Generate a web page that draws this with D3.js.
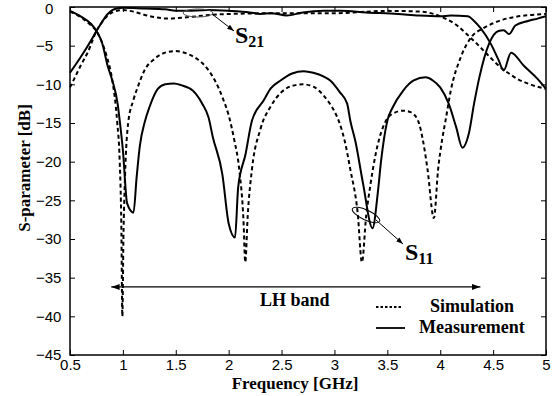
<!DOCTYPE html>
<html>
<head>
<meta charset="utf-8">
<script src="https://cdn.jsdelivr.net/npm/d3@7"></script>
<style>
  body { margin: 0; background: #fff; }
  .tick text { font-family: "Liberation Sans", Arial, sans-serif; font-size: 15px; fill: #000; }
  .lbl { font-family: "Liberation Serif", "Times New Roman", serif; font-weight: bold; fill: #000; }
</style>
</head>
<body>
<div id="chart"></div>
<script>
// Simulated S11
var freqSimS11 = [0.5, 0.6, 0.7, 0.75, 0.8, 0.85, 0.9, 0.945, 0.97, 0.985, 0.995, 1.005, 1.02, 1.05, 1.1, 1.15, 1.2, 1.3, 1.4, 1.5,
  1.6, 1.7, 1.8, 1.87, 1.95, 2.0, 2.05, 2.1, 2.14, 2.157, 2.18, 2.22, 2.3, 2.4, 2.5, 2.6, 2.7, 2.8, 2.9, 3.0,
  3.04, 3.1, 3.15, 3.22, 3.26, 3.3, 3.34, 3.39, 3.46, 3.55, 3.65, 3.72, 3.79, 3.84, 3.88, 3.94, 3.98, 4.02, 4.05, 4.1,
  4.2, 4.3, 4.4, 4.5, 4.6, 4.7, 4.8, 4.9, 5.0];
var simS11 = [-0.6, -1.3, -2.4, -3.1, -4.5, -6.5, -9.5, -14.7, -20, -28, -40, -30, -22, -15, -12, -10, -8.3, -6.7, -5.9, -5.7,
  -6, -6.7, -8, -9.5, -12, -14, -17, -21, -27.6, -33, -27, -21, -15.8, -12.8, -11, -10.2, -10, -10.3, -11.5, -13.5,
  -14.7, -17.5, -21, -26.7, -33, -27, -23, -19, -15.5, -13.8, -13.4, -13.6, -14.7, -17.5, -21, -27.3, -21, -17, -14.7, -10.8,
  -6.3, -3.8, -2.8, -2.1, -1.6, -1.3, -1.1, -1.0, -0.9];

// Measured S11
var freqMeasS11 = [0.5, 0.6, 0.7, 0.75, 0.8, 0.86, 0.9, 0.95, 0.97, 1.0, 1.04, 1.1, 1.13, 1.16, 1.21, 1.25, 1.33, 1.4, 1.48, 1.55,
  1.66, 1.75, 1.81, 1.85, 1.94, 2.0, 2.06, 2.09, 2.16, 2.22, 2.33, 2.4, 2.49, 2.6, 2.71, 2.8, 2.9, 2.96, 3.05, 3.12,
  3.15, 3.2, 3.27, 3.36, 3.41, 3.44, 3.5, 3.55, 3.65, 3.75, 3.86, 3.93, 4.0, 4.08, 4.15, 4.21, 4.27, 4.32, 4.37, 4.46,
  4.55, 4.6, 4.65, 4.71, 4.83, 4.92, 5.0];
var measS11 = [-0.5, -1.2, -2.2, -3.1, -4.5, -7.8, -9.5, -12.5, -14.7, -18.5, -25.4, -26.6, -22, -18, -14.7, -13, -10.6, -10, -9.9, -10.1,
  -10.8, -12.5, -14.3, -16.8, -21.6, -28, -29.8, -23.3, -19, -14.7, -12.1, -10.5, -9.5, -8.6, -8.3, -8.5, -9, -9.5, -11, -12.5,
  -14.7, -17.5, -22.8, -28.6, -24, -20, -14.7, -13, -10.8, -9.5, -9.1, -9.5, -10.4, -12.5, -15.5, -18.2, -16.4, -12.5, -9.1, -4.8,
  -3.1, -3.0, -3.5, -2.4, -1.8, -1.5, -1.2];

// Simulated S21
var freqSimS21 = [0.5, 0.55, 0.6, 0.67, 0.75, 0.8, 0.85, 0.9, 1.0, 1.1, 1.2, 1.3, 1.43, 1.55, 1.7, 1.85, 2.0, 2.5, 3.0, 3.5,
  3.81, 3.94, 4.05, 4.16, 4.25, 4.35, 4.45, 4.57, 4.65, 4.73, 4.85, 5.0];
var simS21 = [-10.4, -9, -7.6, -5.8, -3.1, -2.0, -1.2, -0.7, -0.4, -0.6, -1.0, -1.3, -1.5, -1.4, -1.2, -1.0, -0.9, -0.8, -0.8, -0.5,
  -0.6, -0.9, -1.5, -2.4, -3.5, -4.8, -6.2, -7.8, -8.6, -9.3, -10, -10.6];

// Measured S21
var freqMeasS21 = [0.5, 0.6, 0.7, 0.75, 0.8, 0.85, 0.9, 0.95, 1.0, 1.2, 1.4, 1.5, 1.6, 1.8, 2.0, 2.2, 2.3, 2.4, 2.55, 2.7,
  2.9, 3.06, 3.3, 3.6, 3.8, 4.0, 4.1, 4.26, 4.32, 4.38, 4.48, 4.55, 4.6, 4.67, 4.79, 4.92, 5.0];
var measS21 = [-8.5, -6.5, -4.3, -3.1, -2.0, -1.0, -0.4, -0.15, -0.1, -0.2, -0.3, -0.5, -0.5, -0.4, -0.5, -0.7, -0.9, -0.8, -1.1, -0.7,
  -0.5, -0.5, -0.7, -0.9, -1.1, -1.2, -1.1, -1.2, -1.8, -2.7, -4.8, -6.8, -8.2, -5.9, -7.6, -9.3, -10.6];

var xTicks = [0.5, 1, 1.5, 2, 2.5, 3, 3.5, 4, 4.5, 5];
var yTicks = [0, -5, -10, -15, -20, -25, -30, -35, -40, -45];

var W = 559, H = 396;
var margin = {top: 7, right: 13, bottom: 41, left: 70};
var iw = W - margin.left - margin.right, ih = H - margin.top - margin.bottom;

var svg = d3.select("#chart").append("svg").attr("width", W).attr("height", H);
var defs = svg.append("defs");
defs.append("marker").attr("id", "ah").attr("viewBox", "0 0 10 10").attr("refX", 10).attr("refY", 5)
    .attr("markerWidth", 7).attr("markerHeight", 7).attr("orient", "auto-start-reverse")
  .append("path").attr("d", "M0,1.5L10,5L0,8.5Z").attr("fill", "#000");

var g = svg.append("g").attr("transform", "translate(" + margin.left + "," + margin.top + ")");

var x = d3.scaleLinear().domain([0.5, 5]).range([0, iw]);
var y = d3.scaleLinear().domain([-45, 0]).range([ih, 0]);

// axes with inward ticks on all four sides
var fmt = d3.format("");
g.append("g").attr("transform", "translate(0," + ih + ")")
    .call(d3.axisBottom(x).tickValues(xTicks).tickFormat(fmt).tickSizeInner(-5).tickSizeOuter(0).tickPadding(4))
    .call(function(a) { a.select(".domain").remove(); });
g.append("g")
    .call(d3.axisTop(x).tickValues(xTicks).tickFormat("").tickSizeInner(-5).tickSizeOuter(0))
    .call(function(a) { a.select(".domain").remove(); });
g.append("g").attr("transform", "translate(" + iw + ",0)")
    .call(d3.axisRight(y).tickValues(yTicks).tickFormat("").tickSizeInner(-5).tickSizeOuter(0))
    .call(function(a) { a.select(".domain").remove(); });
var yAxis = g.append("g")
    .call(d3.axisLeft(y).tickValues(yTicks).tickFormat(fmt).tickSizeInner(-5).tickSizeOuter(0))
    .call(function(a) { a.select(".domain").remove(); });
yAxis.selectAll(".tick text")
    .attr("text-anchor", "start")
    .attr("x", function(d) { return d === 0 ? -25 : -34; })
    .attr("dy", function(d) { return d === 0 ? "0.45em" : "0.32em"; });
g.selectAll(".tick line").attr("stroke", "#000").attr("stroke-width", 1);

g.append("rect").attr("width", iw).attr("height", ih)
    .attr("fill", "none").attr("stroke", "#000").attr("stroke-width", 1.5);

// curves
var lineGen = d3.line()
    .x(function(d) { return x(d[0]); })
    .y(function(d) { return y(d[1]); })
    .curve(d3.curveMonotoneX);

function zip(f, v) { return f.map(function(d, i) { return [d, v[i]]; }); }

var series = [
  {f: freqSimS21, v: simS21, dash: "4,3"},
  {f: freqSimS11, v: simS11, dash: "4,3"},
  {f: freqMeasS21, v: measS21, dash: null},
  {f: freqMeasS11, v: measS11, dash: null}
];
series.forEach(function(s) {
  g.append("path")
      .attr("d", lineGen(zip(s.f, s.v)))
      .attr("fill", "none")
      .attr("stroke", "#000")
      .attr("stroke-width", 2)
      .attr("stroke-linejoin", "round")
      .attr("stroke-dasharray", s.dash);
});

// LH band arrow
g.append("line")
    .attr("x1", x(0.89)).attr("x2", x(4.38))
    .attr("y1", y(-36.2)).attr("y2", y(-36.2))
    .attr("stroke", "#000").attr("stroke-width", 1.2)
    .attr("marker-start", "url(#ah)").attr("marker-end", "url(#ah)");
g.append("text").attr("class", "lbl").attr("x", 190).attr("y", 299)
    .style("font-size", "18px").text("LH band");

// S21 annotation
g.append("ellipse").attr("cx", 128).attr("cy", 6).attr("rx", 15).attr("ry", 4)
    .attr("fill", "none").attr("stroke", "#555").attr("stroke-width", 1);
g.append("line").attr("x1", 142).attr("y1", 7).attr("x2", 164).attr("y2", 24)
    .attr("stroke", "#000").attr("stroke-width", 1).attr("marker-end", "url(#ah)");
var t21 = g.append("text").attr("class", "lbl").attr("x", 165).attr("y", 36).style("font-size", "24px");
t21.append("tspan").text("S");
t21.append("tspan").attr("dy", 4).style("font-size", "16px").text("21");

// S11 annotation
g.append("ellipse").attr("transform", "translate(296,208) rotate(25)").attr("rx", 15).attr("ry", 5)
    .attr("fill", "none").attr("stroke", "#000").attr("stroke-width", 1);
g.append("line").attr("x1", 306).attr("y1", 213).attr("x2", 333).attr("y2", 237)
    .attr("stroke", "#000").attr("stroke-width", 1).attr("marker-end", "url(#ah)");
var t11 = g.append("text").attr("class", "lbl").attr("x", 335).attr("y", 253).style("font-size", "24px");
t11.append("tspan").text("S");
t11.append("tspan").attr("dy", 4).style("font-size", "16px").text("11");

// legend
var lg = g.append("g").attr("transform", "translate(306,300)");
lg.append("line").attr("x1", 0).attr("x2", 27).attr("y1", 0).attr("y2", 0)
    .attr("stroke", "#000").attr("stroke-width", 1.8).attr("stroke-dasharray", "2.5,2");
lg.append("text").attr("class", "lbl").attr("x", 54).attr("y", 5).style("font-size", "18px").text("Simulation");
lg.append("line").attr("x1", 0).attr("x2", 29).attr("y1", 21).attr("y2", 21)
    .attr("stroke", "#000").attr("stroke-width", 1.8);
lg.append("text").attr("class", "lbl").attr("x", 43).attr("y", 26).style("font-size", "18px").text("Measurement");

// axis titles
svg.append("text").attr("class", "lbl").attr("x", 295).attr("y", 389)
    .attr("text-anchor", "middle").style("font-size", "17px").text("Frequency [GHz]");
svg.append("text").attr("class", "lbl")
    .attr("transform", "translate(30,168) rotate(-90)")
    .attr("text-anchor", "middle").style("font-size", "17px").text("S-parameter [dB]");
</script>
</body>
</html>
